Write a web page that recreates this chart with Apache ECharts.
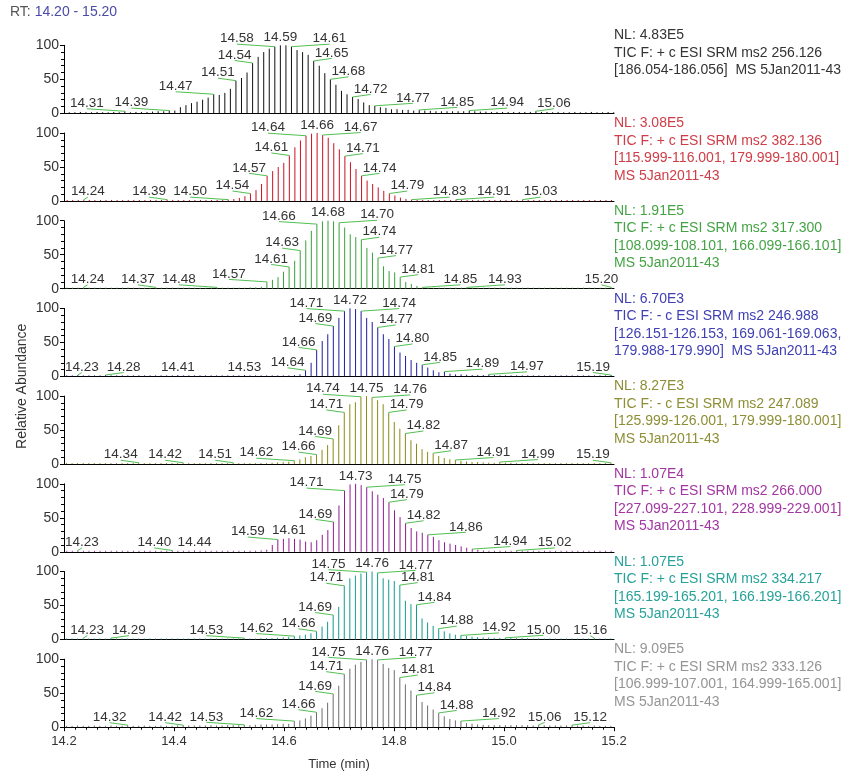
<!DOCTYPE html>
<html>
<head>
<meta charset="utf-8">
<script src="https://cdn.jsdelivr.net/npm/echarts@6/dist/echarts.min.js"></script>
<style>html,body{margin:0;padding:0;background:#fff}#chart{width:847px;height:773px}</style>
</head>
<body>
<div id="chart"></div>
<script>
// Scan grid: each SRM trace is sampled once per cycle
const SCAN_INTERVAL = 0.0101;
const firstScan = [14.2096, 14.2057, 14.2053, 14.2049, 14.2046, 14.2050, 14.2046, 14.2046];

// Relative abundance (%) of every scan, per trace
const trace1 = [1.5,1.5,2,1.5,1.5,2,1.5,1.5,2,1.5, 3,1.5,2,2,2,2.5,3,3,4,4, 9,12,15,17,20,23,28,27,30,36, 48,52,60,74,83,90,95,98,100,100,
  98,93,90,86,77,70,59,50,42,33, 28,24,21,16,12,11,9,8,6,6, 5,5,4,5,4,3.5,3,3,3,3, 3,3,4,3,2.5,2.5,2,2,2,2, 2,2,2,2,3,2,2,1.5,2,1.5, 1.5,2,1.5,1.5,2,1.5,1.5,2,1.5];
const trace2 = [1.5,1.5,1.5,2,1.5,1.5,1.5,1.5,1.5,1.5, 1.5,1.5,1.5,1.5,1.5,1.5,1.5,1.5,2,1.5, 1.5,1.5,1.5,1.5,1.5,1.5,1.5,1.5,1.5,2, 3,4.5,7,11,16,25,37,44,50,56,
  67,79,89,96,99,100,97,93,85,76, 66,57,47,37,30,25,20,15,11,8, 5,3,2,1.5,1.5,1.5,1.5,1.5,1.5,1.5, 2,1.5,1.5,1.5,1.5,1.5,1.5,1.5,1.5,1.5, 1.5,1.5,2,1.5,1.5,1.5,1.5,1.5,1.5,1.5, 1.5,1.5,1.5,1.5,1.5,1.5,1.5,1.5,1.5];
const trace3 = [1.5,1.5,1.5,2,1.5,1.5,1.5,1.5,1.5,1.5, 1.5,1.5,1.5,1.5,1.5,1.5,2,1.5,1.5,1.5, 1.5,1.5,1.5,1.5,1.5,1.5,1.5,2,1.5,1.5, 1.5,1.5,1.5,2,2,3,10,13,17,25,
  32,41,56,71,85,95,99,100,99,97, 90,80,76,72,60,53,45,33,26,24, 17,10,7,4,2,1.5,1.5,1.5,1.5,1.5, 1.5,1.5,2,1.5,1.5,1.5,1.5,1.5,1.5,1.5, 1.5,1.5,1.5,1.5,1.5,1.5,1.5,1.5,1.5,1.5, 1.5,1.5,1.5,1.5,1.5,1.5,1.5,1.5,2];
const trace4 = [1.5,1.5,2,1.5,1.5,1.5,1.5,2,1.5,1.5, 1.5,1.5,1.5,1.5,1.5,1.5,1.5,1.5,1.5,1.5, 2,1.5,1.5,1.5,1.5,1.5,1.5,1.5,1.5,1.5, 1.5,1.5,2,1.5,1.5,1.5,1.5,1.5,1.5,1.5,
  1.5,2,3,9,20,39,52,62,74,86, 96,100,99,96,86,80,72,62,55,44, 35,30,24,20,17,13,9,6,7,4, 3,3,2.5,2,2,2,3,2,1.5,1.5, 1.5,1.5,1.5,1.5,1.5,1.5,1.5,1.5,1.5,1.5, 1.5,1.5,1.5,1.5,1.5,1.5,1.5,1.5,2];
const trace5 = [1.5,1.5,1.5,1.5,1.5,1.5,1.5,1.5,1.5,1.5, 1.5,1.5,1.5,2,1.5,1.5,1.5,1.5,1.5,1.5, 1.5,2,1.5,1.5,1.5,1.5,1.5,1.5,1.5,1.5, 2,1.5,1.5,1.5,1.5,1.5,1.5,2,2.5,3,
  3.5,5,7,10,12,14,21,28,37,57, 76,88,91,99,100,98,94,88,76,62, 52,45,35,30,22,18,16,12,9,7, 6,5,4,3,3,2.5,2,2,3,2, 2,1.5,1.5,1.5,1.5,1.5,1.5,1.5,1.5,1.5, 1.5,1.5,1.5,1.5,1.5,1.5,1.5,1.5,2];
const trace6 = [1.5,1.5,2,1.5,1.5,1.5,1.5,1.5,1.5,1.5, 1.5,1.5,1.5,1.5,1.5,1.5,1.5,1.5,1.5,2, 1.5,1.5,1.5,2,1.5,1.5,1.5,1.5,1.5,1.5, 1.5,1.5,1.5,1.5,1.5,2,3,10,18,19,
  20,19,18,15,14,17,25,32,44,68, 90,99,100,98,95,89,84,79,73,61, 51,42,35,30,28,25,22,17,14,12, 10,8,6,4,3,2,1.5,1.5,1.5,1.5, 1.5,2,1.5,1.5,1.5,1.5,1.5,1.5,1.5,1.5, 1.5,1.5,1.5,1.5,1.5,1.5,1.5,1.5,1.5];
const trace7 = [1.5,1.5,1.5,2,1.5,1.5,1.5,1.5,2,1.5, 1.5,1.5,1.5,1.5,1.5,1.5,1.5,1.5,1.5,1.5, 1.5,1.5,1.5,1.5,1.5,1.5,1.5,1.5,1.5,1.5, 1.5,1.5,2,1.5,1.5,2,2,2,2.5,3,
  4,5,6,7,9,12,19,26,36,48, 79,90,94,97,99,100,98,90,88,86, 80,57,52,51,31,25,20,16,12,9, 7,6,5,4,3.5,3,3,2.5,2.5,2.5, 2,2,2,2,1.5,1.5,1.5,1.5,1.5,1.5, 1.5,1.5,1.5,1.5,1.5,2,1.5,1.5,1.5];
const trace8 = [2,2,2.5,2,2,2.5,2,2,2.5,2, 2,3,2,2,2.5,2,2,2.5,2,2, 2.5,3,2.5,2.5,2.5,2.5,3,2.5,2.5,3, 3,3,3.5,3,3.5,4,4,4,4.5,5,
  5,9,10,13,17,22,28,36,49,61, 78,86,92,96,99,100,99,93,87,84, 73,63,54,47,37,32,26,21,16,12, 10,9,6,5,4,3.5,3,3,3,3, 3,3,3,3,2.5,3.5,3,2.5,2.5,2.5, 2.5,3,2.5,2.5,2,2.5,2,2,2];
const traces = [trace1, trace2, trace3, trace4, trace5, trace6, trace7, trace8];

// Labelled apex retention times, per trace
const peaks1 = ['14.31','14.39','14.47','14.51','14.54','14.58','14.59','14.61','14.65','14.68','14.72','14.77','14.85','14.94','15.06'];
const peaks2 = ['14.24','14.39','14.50','14.54','14.57','14.61','14.64','14.66','14.67','14.71','14.74','14.79','14.83','14.91','15.03'];
const peaks3 = ['14.24','14.37','14.48','14.57','14.61','14.63','14.66','14.68','14.70','14.74','14.77','14.81','14.85','14.93','15.20'];
const peaks4 = ['14.23','14.28','14.41','14.53','14.64','14.66','14.69','14.71','14.72','14.74','14.77','14.80','14.85','14.89','14.97','15.19'];
const peaks5 = ['14.34','14.42','14.51','14.62','14.66','14.69','14.71','14.74','14.75','14.76','14.79','14.82','14.87','14.91','14.99','15.19'];
const peaks6 = ['14.23','14.40','14.44','14.59','14.61','14.69','14.71','14.73','14.75','14.79','14.82','14.86','14.94','15.02'];
const peaks7 = ['14.23','14.29','14.53','14.62','14.66','14.69','14.71','14.75','14.76','14.77','14.81','14.84','14.88','14.92','15.00','15.16'];
const peaks8 = ['14.32','14.42','14.53','14.62','14.66','14.69','14.71','14.75','14.76','14.77','14.81','14.84','14.88','14.92','15.06','15.12'];
const peaks = [peaks1, peaks2, peaks3, peaks4, peaks5, peaks6, peaks7, peaks8];

// Scan header text shown beside each trace
const headers = [
  ['NL: 4.83E5', 'TIC F: + c ESI SRM ms2 256.126', '[186.054-186.056]  MS 5Jan2011-43'],
  ['NL: 3.08E5', 'TIC F: + c ESI SRM ms2 382.136', '[115.999-116.001, 179.999-180.001]', 'MS 5Jan2011-43'],
  ['NL: 1.91E5', 'TIC F: + c ESI SRM ms2 317.300', '[108.099-108.101, 166.099-166.101]', 'MS 5Jan2011-43'],
  ['NL: 6.70E3', 'TIC F: - c ESI SRM ms2 246.988', '[126.151-126.153, 169.061-169.063,', '179.988-179.990]  MS 5Jan2011-43'],
  ['NL: 8.27E3', 'TIC F: - c ESI SRM ms2 247.089', '[125.999-126.001, 179.999-180.001]', 'MS 5Jan2011-43'],
  ['NL: 1.07E4', 'TIC F: + c ESI SRM ms2 266.000', '[227.099-227.101, 228.999-229.001]', 'MS 5Jan2011-43'],
  ['NL: 1.07E5', 'TIC F: + c ESI SRM ms2 334.217', '[165.199-165.201, 166.199-166.201]', 'MS 5Jan2011-43'],
  ['NL: 9.09E5', 'TIC F: + c ESI SRM ms2 333.126', '[106.999-107.001, 164.999-165.001]', 'MS 5Jan2011-43']
];
const rtRange = [14.2, 15.2];
const xTickStep = 0.2;

// ---- styling / layout ----
const FONT = '"Liberation Sans", Arial, Helvetica, sans-serif';
const stickColors = ['#111111', '#cc1024', '#38a038', '#1c1ca2', '#8a8a14', '#901c90', '#129a8e', '#6c6c6c'];
const textColors  = ['#333333', '#cf3d47', '#45a345', '#4040b4', '#8e8e36', '#a236a2', '#27a29a', '#959595'];
const LEADER = '#52c052';
const GRID_LEFT = 64, GRID_WIDTH = 550, FIRST_TOP = 45.3, PITCH = 87.7, GRID_HEIGHT = 68;

// horizontal offset (px) of each peak label from its scan
const H = 18, F = 38, S = 4;
const labelShift = [
  [-F,-F,-F,-H,-H,-F,0,F,H,H,H,F,F,F,H],
  [S,-H,-F,-H,-H,-H,-F,0,F,H,H,H,F,F,H],
  [S,-H,-F,-F,-H,-H,-F,0,F,H,H,H,F,F,-10],
  [S,H,0,0,-H,-H,-H,-F,0,F,H,H,H,F,F,-H],
  [-H,-H,-H,-F,-H,-H,-H,-F,0,F,H,H,H,F,F,-H],
  [S,-H,0,-30,0,-H,-F,0,F,H,H,F,F,F],
  [S,H,-F,-F,-H,-H,-H,-F,0,F,H,H,H,F,F,-4],
  [-H,-H,-F,-F,-H,-H,-H,-F,0,F,H,H,H,F,6,H]
];

const nPanels = traces.length;
const grids = [], xAxes = [], yAxes = [], series = [], graphics = [];

function scanTime(k, i) { return firstScan[k] + i * SCAN_INTERVAL; }

for (let k = 0; k < nPanels; k++) {
  const last = k === nPanels - 1;
  const top = FIRST_TOP + k * PITCH;
  grids.push({ left: GRID_LEFT, width: GRID_WIDTH, top: top, height: GRID_HEIGHT, outerBoundsMode: 'none' });
  xAxes.push({
    type: 'value', gridIndex: k, min: rtRange[0], max: rtRange[1], interval: xTickStep,
    axisLine: { show: true, onZero: true, lineStyle: { color: '#000', width: 1 } },
    axisTick: { show: last, length: 4, lineStyle: { color: '#000' } },
    minorTick: { show: last, splitNumber: 10, length: 2.5, lineStyle: { color: '#000' } },
    axisLabel: { show: last, formatter: v => v.toFixed(1), fontSize: 13, fontFamily: FONT, color: '#333', margin: 8 },
    splitLine: { show: false }, minorSplitLine: { show: false },
    name: last ? 'Time (min)' : '', nameLocation: 'middle', nameGap: 31,
    nameTextStyle: { fontSize: 13, fontFamily: FONT, color: '#333' }
  });
  yAxes.push({
    type: 'value', gridIndex: k, min: 0, max: 100, interval: 50,
    axisLine: { show: true, lineStyle: { color: '#000', width: 1 } },
    axisTick: { show: true, length: 4, lineStyle: { color: '#000' } },
    minorTick: { show: true, splitNumber: 5, length: 3, lineStyle: { color: '#000' } },
    axisLabel: { fontSize: 14, fontFamily: FONT, color: '#333', margin: 5 },
    splitLine: { show: false }, minorSplitLine: { show: false }
  });

  // chromatogram sticks
  const color = stickColors[k];
  series.push({
    type: 'custom', coordinateSystem: 'cartesian2d', xAxisIndex: k, yAxisIndex: k,
    silent: true, animation: false, clip: false,
    data: traces[k].map((v, i) => [scanTime(k, i), v]),
    renderItem: (params, api) => {
      const base = api.coord([api.value(0), 0]);
      const tip = api.coord([api.value(0), api.value(1)]);
      return { type: 'line', shape: { x1: base[0], y1: base[1], x2: tip[0], y2: tip[1] },
               style: { stroke: color, lineWidth: 1 } };
    }
  });

  // apex labels with leader lines
  const labelData = peaks[k].map((txt, j) => {
    let idx = traces[k].findIndex((v, i) => scanTime(k, i).toFixed(2) === txt);
    if (idx < 0) {
      let best = 0;
      traces[k].forEach((v, i) => { if (Math.abs(scanTime(k, i) - +txt) < Math.abs(scanTime(k, best) - +txt)) best = i; });
      idx = best;
    }
    return [scanTime(k, idx), traces[k][idx], labelShift[k][j]];
  });
  series.push({
    type: 'custom', coordinateSystem: 'cartesian2d', xAxisIndex: k, yAxisIndex: k,
    silent: true, animation: false, clip: false, z: 5,
    data: labelData,
    renderItem: (params, api) => {
      const t = api.value(0), v = api.value(1), dx = api.value(2);
      const p = api.coord([t, v]);
      const cx = p[0] + dx;
      const children = [];
      if (dx !== 0) {
        children.push({ type: 'line', shape: { x1: cx, y1: p[1] - 2.5, x2: p[0], y2: p[1] },
                        style: { stroke: LEADER, lineWidth: 1 } });
      }
      children.push({ type: 'text', x: cx, y: p[1] - 1,
        style: { text: t.toFixed(2), align: 'center', verticalAlign: 'bottom', fill: '#333', font: '13.5px ' + FONT } });
      return { type: 'group', children: children };
    }
  });

  // scan header beside the trace
  graphics.push({
    type: 'text', x: GRID_LEFT + GRID_WIDTH, y: top + GRID_HEIGHT - 86.5, silent: true,
    style: { text: headers[k].join('\n'), fill: textColors[k], font: '14px ' + FONT, lineHeight: 17.5, verticalAlign: 'top' }
  });
}

graphics.push({
  type: 'text', x: 22, y: FIRST_TOP + ((nPanels - 1) * PITCH + GRID_HEIGHT) / 2, rotation: Math.PI / 2, silent: true,
  style: { text: 'Relative Abundance', align: 'center', verticalAlign: 'middle', fill: '#333', font: '14px ' + FONT }
});

const chart = echarts.init(document.getElementById('chart'), null, { renderer: 'canvas' });
chart.setOption({
  animation: false,
  backgroundColor: '#fff',
  title: {
    text: '{a|RT:} {b|' + rtRange[0].toFixed(2) + ' - ' + rtRange[1].toFixed(2) + '}',
    left: 10, top: 5, padding: 0,
    textStyle: { fontSize: 14, fontWeight: 'normal', fontFamily: FONT,
      rich: { a: { color: '#555', fontSize: 14, fontFamily: FONT }, b: { color: '#4a4aa8', fontSize: 14, fontFamily: FONT } } }
  },
  grid: grids, xAxis: xAxes, yAxis: yAxes, series: series, graphic: graphics
});
</script>
</body>
</html>
